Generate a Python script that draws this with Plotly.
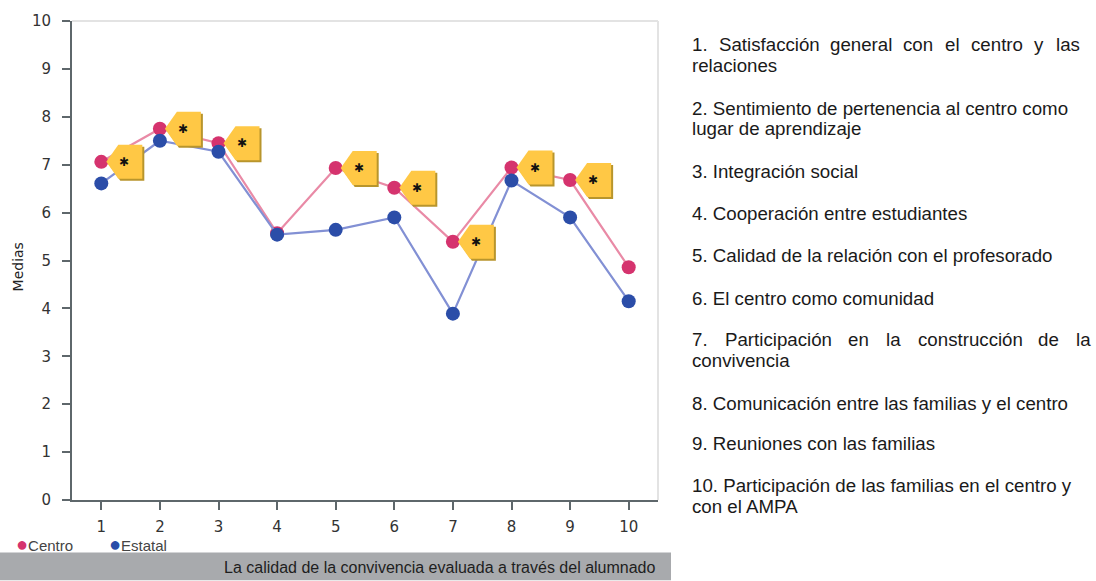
import plotly.graph_objects as go

# Indicator numbers on the x axis
indicadores = [1, 2, 3, 4, 5, 6, 7, 8, 9, 10]
# Mean scores: school ("Centro") and national reference ("Estatal")
centro = [7.06, 7.75, 7.45, 5.57, 6.93, 6.52, 5.39, 6.94, 6.68, 4.86]
estatal = [6.61, 7.50, 7.27, 5.54, 5.64, 5.90, 3.89, 6.67, 5.90, 4.15]
# 1 = significant difference, flagged with a yellow "*" tag
significativo = [1, 1, 1, 0, 1, 1, 1, 1, 1, 0]
y_ticks = [0, 1, 2, 3, 4, 5, 6, 7, 8, 9, 10]

W, H = 1096, 581
L, R, T, B = 72, 658, 16, 500


def px(x):
    return (x - L) / (R - L)


def py(y):
    return (B - y) / (B - T)


PINK, PINK_LINE = "#D5336E", "#E98AA6"
BLUE, BLUE_LINE = "#2B4DA8", "#8290D4"

fig = go.Figure()
fig.add_trace(go.Scatter(
    x=indicadores, y=centro, mode="lines+markers", name="Centro",
    line=dict(color=PINK_LINE, width=2.2),
    marker=dict(color=PINK, size=14), showlegend=False))
fig.add_trace(go.Scatter(
    x=indicadores, y=estatal, mode="lines+markers", name="Estatal",
    line=dict(color=BLUE_LINE, width=2.2),
    marker=dict(color=BLUE, size=14), showlegend=False))

shapes = []
annotations = []

# Yellow "*" tags next to significant points (pixel-sized, anchored to data)
tag_path = "M 5,0 L 17,17 L 41,17 L 41,-17 L 17,-17 Z"
shadow_path = "M 7,-2 L 19,15 L 43,15 L 43,-19 L 19,-19 Z"
for xi, yi, s in zip(indicadores, centro, significativo):
    if not s:
        continue
    for path, col in ((shadow_path, "#B8952C"), (tag_path, "#FFC845")):
        shapes.append(dict(type="path", xref="x", yref="y",
                           xsizemode="pixel", ysizemode="pixel",
                           xanchor=xi, yanchor=yi, path=path,
                           fillcolor=col, line=dict(width=0), layer="above"))
    annotations.append(dict(x=xi, y=yi, xref="x", yref="y", text="✱",
                            showarrow=False, xshift=23, yshift=0,
                            font=dict(family="DejaVu Sans", size=12, color="#111")))

# Light frame on top and right
shapes.append(dict(type="line", xref="paper", yref="paper", x0=0, x1=1, y0=1, y1=1,
                   line=dict(color="#E3E3E3", width=2)))
shapes.append(dict(type="line", xref="paper", yref="paper", x0=1, x1=1, y0=0, y1=1,
                   line=dict(color="#E3E3E3", width=2)))

# Grey caption bar
shapes.append(dict(type="rect", xref="paper", yref="paper",
                   x0=px(0), x1=px(671), y0=py(581), y1=py(553),
                   fillcolor="#A8AAAD", line=dict(width=0), layer="below"))
annotations.append(dict(x=px(658), y=py(568), xref="paper", yref="paper",
                        xanchor="right", yanchor="middle", showarrow=False,
                        text="La calidad de la convivencia evaluada a través del alumnado",
                        font=dict(family="Liberation Sans", size=16, color="#1E1E1E")))

# Legend
for xpos, col, name in ((14, PINK, "Centro"), (107, BLUE, "Estatal")):
    annotations.append(dict(x=px(xpos), y=py(544), xref="paper", yref="paper",
                            xanchor="left", yanchor="middle", showarrow=False,
                            text=f'<span style="color:{col};font-size:20px">●</span>{name}',
                            font=dict(family="Liberation Sans", size=15, color="#444")))

# Y axis title
annotations.append(dict(x=px(18), y=py(265), xref="paper", yref="paper",
                        xanchor="center", yanchor="middle", showarrow=False,
                        text="Medias", textangle=-90,
                        font=dict(family="DejaVu Sans", size=14, color="#222")))

# Indicator descriptions on the right
TXT = dict(family="Liberation Sans", size=18.7, color="#1A1A1A")
plain_lines = [
    (61, "relaciones"),
    (104, "2. Sentimiento de pertenencia al centro como"),
    (125, "lugar de aprendizaje"),
    (168, "3. Integración social"),
    (211, "4. Cooperación entre estudiantes"),
    (253, "5. Calidad de la relación con el profesorado"),
    (296, "6. El centro como comunidad"),
    (359, "convivencia"),
    (402, "8. Comunicación entre las familias y el centro"),
    (443, "9. Reuniones con las familias"),
    (485, "10. Participación de las familias en el centro y"),
    (507, "con el AMPA"),
]
for yline, txt in plain_lines:
    annotations.append(dict(x=px(690), y=py(yline), xref="paper", yref="paper",
                            xanchor="left", yanchor="middle", showarrow=False,
                            text=txt, font=TXT))

# Justified first lines, word by word
justified = [
    (40, [(690, "1."), (717, "Satisfacción"), (828, "general"), (901, "con"),
          (943, "el"), (969, "centro"), (1032, "y"), (1054, "las")]),
    (338, [(690, "7."), (723, "Participación"), (846, "en"), (884, "la"),
           (916, "construcción"), (1036, "de"), (1074, "la")]),
]
for yline, words in justified:
    for xw, w in words:
        annotations.append(dict(x=px(xw), y=py(yline), xref="paper", yref="paper",
                                xanchor="left", yanchor="middle", showarrow=False,
                                text=w, font=TXT))

AXIS_COL = "#5E676B"
fig.update_layout(
    width=W, height=H,
    margin=dict(l=L, r=W - R, t=T, b=H - B),
    paper_bgcolor="white", plot_bgcolor="white",
    shapes=shapes, annotations=annotations,
    xaxis=dict(range=[0.5, 10.5], tickvals=indicadores, ticks="outside",
               ticklen=8, tickwidth=2, tickcolor=AXIS_COL,
               showline=True, linecolor=AXIS_COL, linewidth=2,
               showgrid=False, zeroline=False, ticklabelstandoff=4,
               tickfont=dict(family="DejaVu Sans", size=15, color="#333")),
    yaxis=dict(range=[0, 10], tickvals=y_ticks, ticks="outside",
               ticklen=8, tickwidth=2, tickcolor=AXIS_COL,
               showline=True, linecolor=AXIS_COL, linewidth=2,
               showgrid=False, zeroline=False, ticklabelstandoff=8,
               tickfont=dict(family="DejaVu Sans", size=15, color="#333")),
)

fig.write_html("out.html")
